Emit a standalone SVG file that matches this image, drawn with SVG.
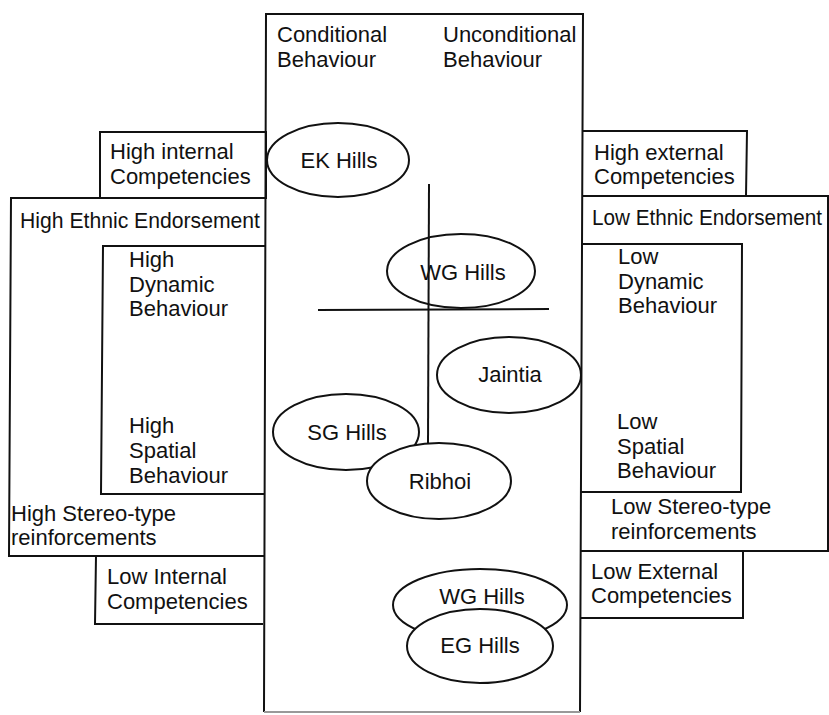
<svg xmlns="http://www.w3.org/2000/svg" width="829" height="715" viewBox="0 0 829 715">
<style>
.b{fill:none;stroke:#111;stroke-width:2}
.e{fill:#fff;stroke:#111;stroke-width:2}
text{font-family:"Liberation Sans",Arial,sans-serif;font-size:22px;fill:#111}
.c{text-anchor:middle}
</style>
<rect width="829" height="715" fill="#fff"/>
<g id="center-box">
<path class="b" d="M264,712 L266,14 L583,14 L580,712"/>
<line x1="264" y1="712" x2="580" y2="712" stroke="#999" stroke-width="2"/>
<text x="277" y="42">Conditional</text>
<text x="277" y="67">Behaviour</text>
<text x="443" y="42">Unconditional</text>
<text x="443" y="67">Behaviour</text>
</g>
<g id="high-internal">
<rect class="b" x="100" y="132" width="166" height="66"/>
<text x="110" y="159">High internal</text>
<text x="110" y="184">Competencies</text>
</g>
<g id="high-ethnic">
<path class="b" d="M266,198 L11,198 L9,556 L264,556"/>
<text x="20" y="228" textLength="240" lengthAdjust="spacingAndGlyphs">High Ethnic Endorsement</text>
<text x="11" y="521">High Stereo-type</text>
<text x="11" y="545">reinforcements</text>
</g>
<g id="high-dynamic">
<path class="b" d="M266,246 L103,246 L101,494 L264,494"/>
<text x="129" y="267">High</text>
<text x="129" y="292">Dynamic</text>
<text x="129" y="316">Behaviour</text>
<text x="129" y="433">High</text>
<text x="129" y="458">Spatial</text>
<text x="129" y="483">Behaviour</text>
</g>
<g id="low-internal">
<path class="b" d="M96,556 L95,624 L263,624"/>
<text x="107" y="584">Low Internal</text>
<text x="107" y="609">Competencies</text>
</g>
<g id="high-external">
<path class="b" d="M583,131 L747,131 L746,196 L583,196"/>
<text x="594" y="160">High external</text>
<text x="594" y="184">Competencies</text>
</g>
<g id="low-ethnic">
<path class="b" d="M583,196 L828,196 L828,551 L581,551"/>
<text x="592" y="225" textLength="230" lengthAdjust="spacingAndGlyphs">Low Ethnic Endorsement</text>
<text x="611" y="514">Low Stereo-type</text>
<text x="611" y="539">reinforcements</text>
</g>
<g id="low-dynamic">
<path class="b" d="M583,244 L742,244 L741,492 L581,492"/>
<text x="618" y="264">Low</text>
<text x="618" y="289">Dynamic</text>
<text x="618" y="313">Behaviour</text>
<text x="617" y="429">Low</text>
<text x="617" y="454">Spatial</text>
<text x="617" y="478">Behaviour</text>
</g>
<g id="low-external">
<path class="b" d="M581,618 L743,618 L743,551"/>
<text x="591" y="579">Low External</text>
<text x="591" y="603">Competencies</text>
</g>
<g id="axes">
<line class="b" x1="429" y1="184" x2="428" y2="444"/>
<line class="b" x1="318" y1="310" x2="549" y2="309"/>
</g>
<g id="ek-hills">
<ellipse class="e" cx="338" cy="160" rx="71" ry="37"/>
<text class="c" x="339" y="168">EK Hills</text>
</g>
<g id="wg-hills-upper">
<ellipse class="b" cx="461" cy="271" rx="74" ry="37"/>
<text class="c" x="463" y="280">WG Hills</text>
</g>
<g id="jaintia">
<ellipse class="e" cx="509" cy="375" rx="72" ry="38"/>
<text class="c" x="510" y="382">Jaintia</text>
</g>
<g id="sg-hills">
<ellipse class="e" cx="346" cy="432" rx="73" ry="38"/>
<text class="c" x="347" y="440">SG Hills</text>
</g>
<g id="ribhoi">
<ellipse class="e" cx="439" cy="481" rx="72" ry="38"/>
<text class="c" x="440" y="489">Ribhoi</text>
</g>
<g id="wg-hills-lower">
<ellipse class="e" cx="480" cy="605" rx="87" ry="36"/>
<text class="c" x="482" y="604">WG Hills</text>
</g>
<g id="eg-hills">
<ellipse class="e" cx="480" cy="646" rx="73" ry="37"/>
<text class="c" x="480" y="653">EG Hills</text>
</g>
</svg>
